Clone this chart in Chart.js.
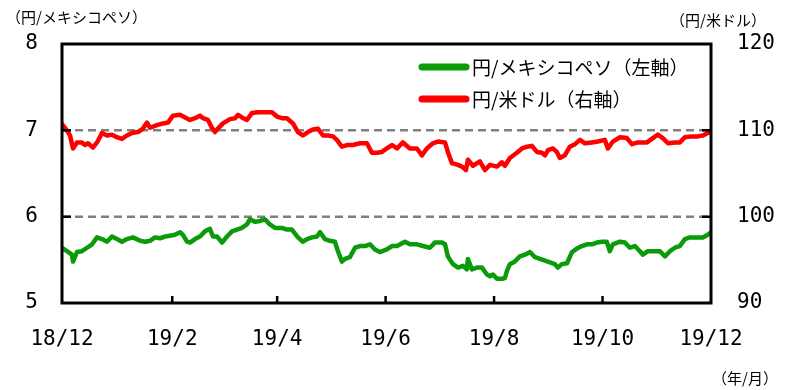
<!DOCTYPE html>
<html>
<head>
<meta charset="utf-8">
<script src="https://cdn.jsdelivr.net/npm/chart.js@4.4.1/dist/chart.umd.min.js"></script>
<style>
html,body{margin:0;padding:0;background:#fff;}
#wrap{width:785px;height:390px;}
</style>
</head>
<body>
<div id="wrap"><canvas id="c" width="785" height="390"></canvas></div>
<script>
// ---- data ----
const tickDates = ['2018-12-01','2019-02-01','2019-04-01','2019-06-01','2019-08-01','2019-10-01','2019-12-01'];
const tickLabels = ['18/12','19/2','19/4','19/6','19/8','19/10','19/12'];
const seriesNames = ['円/メキシコペソ（左軸）','円/米ドル（右軸）'];

// days since 2018-12-01
const mxnDays = [0,2.8,5.6,6.2,8.4,11.2,14.1,16.9,19.7,22.5,25.3,28.1,30.9,33.7,36.5,39.9,43.9,46.7,49.5,52.3,55.1,57.9,60.7,63.5,66.4,68.0,70.3,72.0,74.8,77.6,80.4,83.2,84.9,87.2,90.0,92.8,95.6,98.4,101.2,104.0,105.7,108.5,111.3,114.1,116.9,119.8,123.7,126.5,129.3,132.7,135.5,137.8,140.6,143.4,145.1,147.9,150.7,153.5,155.2,157.4,159.1,161.9,164.8,167.6,170.4,173.2,176.0,178.8,182.7,185.6,188.4,192.9,195.7,199.6,203.0,206.9,209.7,213.7,215.4,217.0,219.9,222.7,225.5,227.7,228.3,230.5,233.4,236.2,239.0,240.7,242.4,244.6,247.4,249.1,250.2,251.9,254.7,257.5,260.4,263.2,266.0,268.8,271.6,274.4,277.2,278.9,281.1,284.0,286.8,289.6,292.4,295.2,298.0,300.8,303.6,306.4,308.1,309.8,313.8,316.6,319.4,322.2,325.0,326.7,329.5,333.4,336.3,339.1,341.9,344.7,347.5,350.3,353.1,357.1,360.4,363.2,365];
const mxnJpy = [5.64,5.60,5.56,5.48,5.59,5.60,5.64,5.68,5.76,5.74,5.71,5.77,5.74,5.71,5.74,5.76,5.72,5.71,5.72,5.76,5.75,5.77,5.78,5.79,5.82,5.79,5.71,5.70,5.74,5.77,5.83,5.86,5.77,5.77,5.70,5.77,5.83,5.85,5.87,5.91,5.97,5.94,5.95,5.97,5.91,5.87,5.87,5.85,5.85,5.76,5.71,5.74,5.76,5.77,5.82,5.74,5.72,5.71,5.60,5.48,5.51,5.53,5.64,5.66,5.66,5.68,5.62,5.59,5.62,5.66,5.66,5.71,5.68,5.68,5.66,5.64,5.70,5.70,5.68,5.54,5.45,5.41,5.43,5.39,5.51,5.39,5.41,5.41,5.33,5.31,5.33,5.28,5.28,5.29,5.37,5.45,5.48,5.54,5.56,5.59,5.53,5.51,5.49,5.47,5.45,5.41,5.45,5.46,5.59,5.63,5.66,5.68,5.68,5.70,5.71,5.71,5.60,5.68,5.71,5.70,5.64,5.66,5.60,5.56,5.60,5.60,5.60,5.54,5.60,5.64,5.66,5.74,5.76,5.76,5.76,5.79,5.82];

const usdDays = [0,2.8,4.5,6.2,8.4,11.2,12.9,14.6,17.4,19.7,22.5,25.3,28.1,30.9,33.7,36.5,39.4,42.7,45.5,47.8,49.5,53.4,56.8,59.6,62.4,66.4,69.2,72.0,74.8,77.6,79.3,82.1,84.3,86.0,87.7,90.5,94.5,97.3,99.0,101.2,104.0,106.8,110.2,114.1,118.1,120.9,123.7,126.5,129.9,132.7,135.5,138.3,141.1,143.9,146.8,149.6,152.4,154.6,157.4,160.3,163.6,167.6,171.5,174.3,177.1,179.9,182.7,185.6,188.4,191.7,195.7,199.6,202.4,205.2,208.6,211.4,215.4,217.0,219.3,222.7,224.9,227.2,228.3,231.1,235.0,237.9,240.7,244.6,247.4,249.1,251.9,255.8,258.7,261.5,264.3,267.1,269.9,271.6,273.3,276.1,278.3,280.0,282.8,285.6,288.5,291.3,294.1,298.0,301.4,305.3,307.0,309.8,313.8,317.7,320.5,323.9,329.0,332.3,335.1,337.9,340.8,344.7,347.5,350.3,354.2,357.6,360.4,363.2,365];
const usdJpy = [110.7,110.0,109.4,107.9,108.6,108.6,108.3,108.5,108.0,108.6,109.7,109.4,109.5,109.2,109.0,109.4,109.7,109.8,110.2,110.9,110.3,110.6,110.8,110.9,111.7,111.8,111.5,111.2,111.4,111.7,111.4,111.2,110.3,109.8,110.2,110.8,111.3,111.4,111.8,111.5,111.2,112.0,112.1,112.1,112.1,111.6,111.4,111.4,110.8,109.8,109.4,109.8,110.1,110.2,109.4,109.4,109.3,108.9,108.1,108.3,108.3,108.5,108.5,107.4,107.4,107.5,107.9,108.3,107.9,108.6,107.9,107.9,107.1,107.9,108.5,108.7,108.6,107.5,106.2,106.0,105.8,105.4,106.6,105.9,106.4,105.4,106.0,105.8,106.3,105.9,106.8,107.4,107.9,108.1,108.2,107.5,107.4,107.1,107.7,107.9,107.5,106.8,107.1,108.1,108.4,108.9,108.5,108.6,108.7,108.9,107.9,108.7,109.2,109.1,108.4,108.6,108.6,109.1,109.5,109.1,108.5,108.6,108.6,109.2,109.3,109.3,109.4,109.7,109.9];

const leftTitle = '（円/メキシコペソ）';
const rightTitle = '（円/米ドル）';
const bottomTitle = '（年/月）';

// ---- helpers ----
const dayOf = d => (Date.parse(d) - Date.parse(tickDates[0])) / 86400000;
const tickDays = tickDates.map(dayOf);
const toXY = (xs, ys) => xs.map((x, i) => ({x: x, y: ys[i]}));

const JP = '"Noto Sans CJK JP", "Noto Sans", sans-serif';
const NUM = '"DejaVu Sans Mono", monospace';

const framePlugin = {
  id: 'frame',
  beforeDatasetsDraw(chart) {
    const {ctx, chartArea: a, scales} = chart;
    ctx.save();
    ctx.strokeStyle = '#808080';
    ctx.lineWidth = 2.5;
    ctx.setLineDash([8, 5]);
    [6, 7].forEach(v => {
      const y = scales.y.getPixelForValue(v);
      ctx.beginPath(); ctx.moveTo(a.left, y); ctx.lineTo(a.right, y); ctx.stroke();
    });
    ctx.restore();
  },
  afterDatasetsDraw(chart) {
    const {ctx, chartArea: a, scales} = chart;
    ctx.save();
    ctx.strokeStyle = '#000';
    ctx.lineWidth = 3;
    ctx.strokeRect(a.left, a.top, a.right - a.left, a.bottom - a.top);
    ctx.lineWidth = 2.5;
    ctx.beginPath();
    tickDays.slice(1, -1).forEach(d => {
      const x = scales.x.getPixelForValue(d);
      ctx.moveTo(x, a.bottom); ctx.lineTo(x, a.bottom - 7);
    });
    [6, 7].forEach(v => {
      const y = scales.y.getPixelForValue(v);
      ctx.moveTo(a.left, y); ctx.lineTo(a.left + 9, y);
    });
    [100, 110].forEach(v => {
      const y = scales.y2.getPixelForValue(v);
      ctx.moveTo(a.right, y); ctx.lineTo(a.right - 9, y);
    });
    ctx.stroke();
    ctx.restore();
  },
  afterDraw(chart) {
    const {ctx} = chart;
    ctx.save();
    // legend
    chart.data.datasets.forEach((ds, i) => {
      const y = 67 + i * 32;
      ctx.strokeStyle = ds.borderColor;
      ctx.lineWidth = 7;
      ctx.lineCap = 'round';
      ctx.setLineDash([]);
      ctx.beginPath(); ctx.moveTo(422, y); ctx.lineTo(466, y); ctx.stroke();
      ctx.fillStyle = '#000';
      ctx.font = '19px ' + JP;
      ctx.textBaseline = 'middle';
      ctx.textAlign = 'left';
      ctx.fillText(ds.label, 472, y + 1);
    });
    // axis titles
    ctx.font = '15px ' + JP;
    ctx.fillStyle = '#000';
    ctx.textBaseline = 'middle';
    ctx.textAlign = 'left';
    ctx.fillText(leftTitle, 6, 17);
    ctx.fillText(rightTitle, 670, 20);
    ctx.fillText(bottomTitle, 712, 378);
    ctx.restore();
  }
};

new Chart(document.getElementById('c'), {
  type: 'line',
  data: {
    datasets: [
      {label: seriesNames[0], data: toXY(mxnDays, mxnJpy), yAxisID: 'y', borderColor: '#0a9a0a'},
      {label: seriesNames[1], data: toXY(usdDays, usdJpy), yAxisID: 'y2', borderColor: '#ff0000'}
    ]
  },
  options: {
    responsive: false,
    animation: false,
    parsing: true,
    layout: {padding: {top: 44, left: 0, right: 0, bottom: 0}},
    elements: {
      line: {borderWidth: 4.5, tension: 0, borderJoinStyle: 'round', borderCapStyle: 'round', fill: false},
      point: {radius: 0, hoverRadius: 0}
    },
    plugins: {legend: {display: false}, tooltip: {enabled: false}},
    scales: {
      x: {
        type: 'linear', min: 0, max: 365,
        afterBuildTicks: s => { s.ticks = tickDays.map(v => ({value: v})); },
        afterFit: s => { s.height = 87; },
        grid: {display: false, drawTicks: false},
        border: {display: false},
        ticks: {
          autoSkip: false, maxRotation: 0, padding: 24,
          color: '#000', font: {family: NUM, size: 21},
          callback: (v, i) => tickLabels[i]
        }
      },
      y: {
        position: 'left', min: 5, max: 8,
        afterFit: s => { s.width = 62; },
        grid: {display: false, drawTicks: false},
        border: {display: false},
        ticks: {stepSize: 1, padding: 24, color: '#000', font: {family: NUM, size: 21}}
      },
      y2: {
        position: 'right', min: 90, max: 120,
        afterFit: s => { s.width = 74; },
        grid: {display: false, drawTicks: false},
        border: {display: false},
        ticks: {stepSize: 10, padding: 26, color: '#000', font: {family: NUM, size: 21}}
      }
    }
  },
  plugins: [framePlugin]
});
</script>
</body>
</html>
